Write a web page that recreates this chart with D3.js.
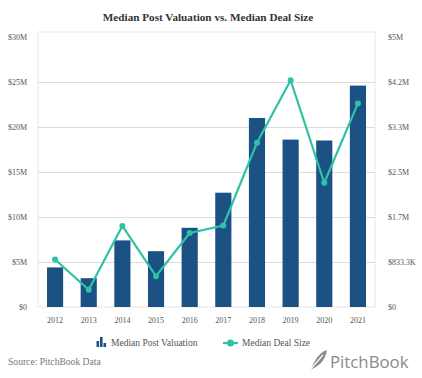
<!DOCTYPE html>
<html><head><meta charset="utf-8">
<script src="https://cdn.jsdelivr.net/npm/d3@7"></script>
<style>body{margin:0;background:#fff}svg{display:block}</style>
</head><body>
<svg id="c" width="422" height="378"></svg>
<script>
const years = ["2012","2013","2014","2015","2016","2017","2018","2019","2020","2021"];
const postValuation = [4.4, 3.2, 7.4, 6.2, 8.8, 12.7, 21.0, 18.6, 18.5, 24.6]; // $M
const dealSize = [0.88, 0.32, 1.50, 0.57, 1.37, 1.51, 3.04, 4.20, 2.30, 3.77]; // $M
const leftTicks = [0, 5, 10, 15, 20, 25, 30];
const leftTickLabels = ["$0","$5M","$10M","$15M","$20M","$25M","$30M"];
const rightTicks = [0, 5/6, 10/6, 15/6, 20/6, 25/6, 5];
const rightTickLabels = ["$0","$833.3K","$1.7M","$2.5M","$3.3M","$4.2M","$5M"];

const svg = d3.select("#c");
const box = {l: 38, r: 375, t: 32, b: 307};
const x = d3.scaleBand().domain(years).range([47, 366]).paddingInner(0.52).paddingOuter(0);
const yL = d3.scaleLinear().domain([0, 30]).range([307, 37]);
const yR = d3.scaleLinear().domain([0, 5]).range([307, 37]);
const serif = "'Liberation Serif','Times New Roman',serif";
const barColor = "#1b5283", lineColor = "#2fc1a5", txt = "#555";

svg.append("text").attr("x", 208).attr("y", 21).attr("text-anchor", "middle")
  .attr("font-family", serif).attr("font-weight", "bold").attr("font-size", 11.2)
  .attr("fill", "#333").text("Median Post Valuation vs. Median Deal Size");

// frame
svg.append("rect").attr("x", box.l).attr("y", box.t).attr("width", box.r - box.l).attr("height", box.b - box.t)
  .attr("fill", "none").attr("stroke", "#e6e6e6").attr("stroke-width", 1);

// gridlines
svg.append("g").selectAll("line").data(leftTicks.filter(d => d > 0 && d < 30)).join("line")
  .attr("x1", box.l).attr("x2", box.r).attr("y1", d => yL(d) + 0.5).attr("y2", d => yL(d) + 0.5)
  .attr("stroke", "#dcdcdc").attr("stroke-width", 1);

// axes
const gl = svg.append("g").attr("transform", `translate(27,0)`)
  .call(d3.axisLeft(yL).tickValues(leftTicks).tickFormat((d, i) => leftTickLabels[i]).tickSize(0).tickPadding(0));
const gr = svg.append("g").attr("transform", `translate(388,0)`)
  .call(d3.axisRight(yR).tickValues(rightTicks).tickFormat((d, i) => rightTickLabels[i]).tickSize(0).tickPadding(0));
const gx = svg.append("g").attr("transform", `translate(0,314)`)
  .call(d3.axisBottom(x).tickSize(0).tickPadding(3));
[gl, gr, gx].forEach(g => {
  g.attr("font-family", serif);
  g.select(".domain").remove();
  g.selectAll("text").attr("font-family", serif).attr("font-size", 8).attr("fill", txt);
});

// bars
svg.append("g").selectAll("rect").data(postValuation).join("rect")
  .attr("x", (d, i) => x(years[i])).attr("width", x.bandwidth())
  .attr("y", d => yL(d)).attr("height", d => yL(0) - yL(d)).attr("fill", barColor);

// line
const cx = (d, i) => x(years[i]) + x.bandwidth() / 2;
svg.append("path").datum(dealSize)
  .attr("d", d3.line().x(cx).y(d => yR(d)))
  .attr("fill", "none").attr("stroke", lineColor).attr("stroke-width", 2.2);
svg.append("g").selectAll("circle").data(dealSize).join("circle")
  .attr("cx", cx).attr("cy", d => yR(d)).attr("r", 3).attr("fill", lineColor);

// legend
const lg = svg.append("g");
lg.append("rect").attr("x", 96.5).attr("y", 341).attr("width", 2.6).attr("height", 6).attr("fill", barColor);
lg.append("rect").attr("x", 100).attr("y", 337).attr("width", 2.6).attr("height", 10).attr("fill", barColor);
lg.append("rect").attr("x", 103.5).attr("y", 343).attr("width", 2.6).attr("height", 4).attr("fill", barColor);
lg.append("text").attr("x", 111).attr("y", 346).attr("font-family", serif).attr("font-size", 9.5).attr("fill", txt).text("Median Post Valuation");
lg.append("line").attr("x1", 223).attr("x2", 238).attr("y1", 343).attr("y2", 343).attr("stroke", lineColor).attr("stroke-width", 2.2);
lg.append("circle").attr("cx", 230.5).attr("cy", 343).attr("r", 3.5).attr("fill", lineColor);
lg.append("text").attr("x", 242).attr("y", 346).attr("font-family", serif).attr("font-size", 9.5).attr("fill", txt).text("Median Deal Size");

// source
svg.append("text").attr("x", 8).attr("y", 365).attr("font-family", serif).attr("font-size", 9.6).attr("fill", "#777").text("Source: PitchBook Data");

// logo
const logo = svg.append("g");
logo.append("path").attr("d", "M310,370 L316,359 Q321,352 327,350 Q326,357 321,363 L316,367 Z").attr("fill", "#8a8a8a");
logo.append("path").attr("d", "M309,371 L323,355").attr("stroke", "#fff").attr("stroke-width", 1.2);
logo.append("text").attr("x", 330).attr("y", 368).attr("font-family", "'Open Sans','DejaVu Sans',sans-serif")
  .attr("font-size", 16.8).attr("fill", "#8a8a8a").text("PitchBook");
</script>
</body></html>
